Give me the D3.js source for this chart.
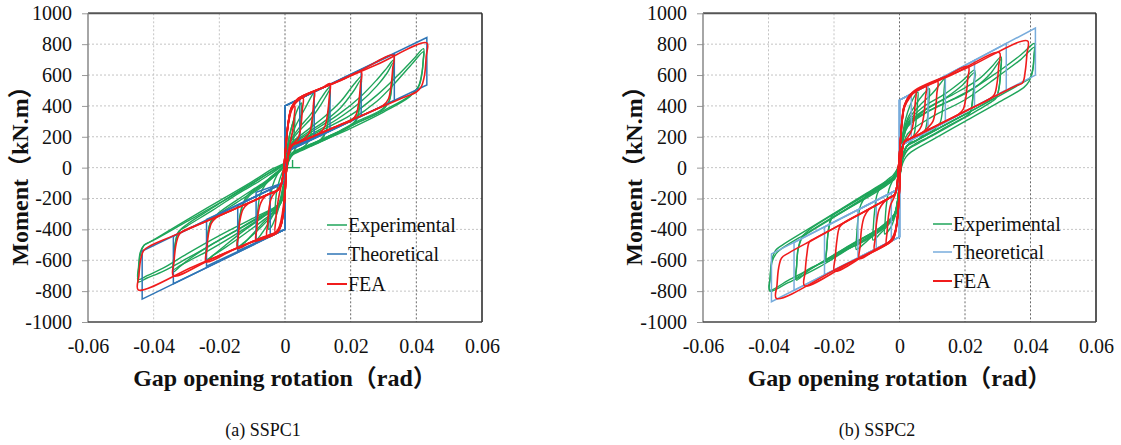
<!DOCTYPE html>
<html><head><meta charset="utf-8">
<script src="https://cdn.jsdelivr.net/npm/d3@7"></script>
<style>body{margin:0;background:#fff}</style>
</head><body>
<svg id="c" width="1121" height="445"></svg>
<script>
// ---------- tick / label data ----------
const xTicks = [-0.06,-0.04,-0.02,0,0.02,0.04,0.06];
const xTickLabels = ["-0.06","-0.04","-0.02","0","0.02","0.04","0.06"];
const yTicks = [-1000,-800,-600,-400,-200,0,200,400,600,800,1000];
const yTickLabels = ["-1000","-800","-600","-400","-200","0","200","400","600","800","1000"];
const legendLabels = ["Experimental","Theoretical","FEA"];
const xTitle = "Gap opening rotation（rad）";
const yTitle = "Moment（kN.m）";
const captions = ["(a) SSPC1","(b) SSPC2"];

// ---------- SSPC1 ----------
const expA = [
 [[0.0005,0],[0.0046,0]],
 [[0.0023,0],[0.0023,50]],
 [[0,20],[0.0006,120],[0.0015,220],[0.0025,300],[0.003,330],[0.0029,260],[0.0025,170],[0.0018,110],[0.001,60],[0.0003,0],[0,-40],[-0.0006,-120],[-0.0015,-210],[-0.0025,-280],[-0.003,-300],[-0.0029,-230],[-0.0025,-150],[-0.0018,-90],[-0.001,-40],[-0.0003,0],[0,20]],
 [[0,20],[0.0006,120],[0.0015,220],[0.003,330],[0.0042,395],[0.005,420],[0.0049,340],[0.0045,230],[0.0038,150],[0.0025,100],[0.0012,60],[0.0004,0],[0,-50],[-0.0006,-130],[-0.0015,-230],[-0.003,-330],[-0.0042,-385],[-0.005,-400],[-0.0049,-320],[-0.0045,-210],[-0.0038,-120],[-0.0025,-50],[-0.0012,-10],[-0.0004,10],[0,20]],
 [[0,20],[0.0006,110],[0.0015,180],[0.003,260],[0.006,380],[0.008,460],[0.0089,491],[0.0088,420],[0.0085,320],[0.0078,210],[0.0065,150],[0.004,115],[0.0022,95],[0.001,60],[0.0003,-20],[0,-80],[-0.0007,-170],[-0.002,-240],[-0.0045,-340],[-0.0072,-430],[-0.0088,-468],[-0.0087,-390],[-0.0083,-280],[-0.0075,-170],[-0.006,-110],[-0.004,-60],[-0.002,-25],[-0.0005,5],[0,20]],
 [[0,20],[0.0006,110],[0.0015,170],[0.004,250],[0.008,350],[0.011,450],[0.0128,505],[0.0137,523],[0.0136,450],[0.0133,350],[0.0126,240],[0.011,185],[0.007,145],[0.004,115],[0.0022,95],[0.001,55],[0.0003,-30],[0,-90],[-0.0007,-180],[-0.002,-250],[-0.005,-320],[-0.009,-410],[-0.0125,-490],[-0.0144,-524],[-0.0143,-440],[-0.0138,-330],[-0.0128,-230],[-0.011,-170],[-0.007,-110],[-0.004,-55],[-0.002,-20],[-0.0005,5],[0,20]],
 [[0,20],[0.0006,100],[0.0015,160],[0.004,230],[0.008,320],[0.011,410],[0.0128,475],[0.0137,505],[0.0136,440],[0.0133,345],[0.0125,235],[0.011,180],[0.007,140],[0.004,110],[0.0022,90],[0.001,50],[0.0003,-30],[0,-90],[-0.0007,-190],[-0.002,-260],[-0.005,-335],[-0.009,-420],[-0.0125,-485],[-0.0144,-510],[-0.0143,-430],[-0.0138,-320],[-0.0128,-240],[-0.011,-185],[-0.007,-125],[-0.004,-70],[-0.002,-30],[-0.0005,0],[0,20]],
 [[0,20],[0.0007,110],[0.002,160],[0.006,230],[0.012,330],[0.017,430],[0.021,540],[0.0232,590],[0.0231,520],[0.0227,410],[0.022,320],[0.019,260],[0.014,210],[0.009,160],[0.005,125],[0.0025,100],[0.0012,60],[0.0004,-20],[0,-90],[-0.0007,-180],[-0.002,-240],[-0.006,-310],[-0.012,-400],[-0.018,-500],[-0.022,-570],[-0.024,-610],[-0.0239,-520],[-0.0234,-420],[-0.0225,-350],[-0.02,-300],[-0.015,-230],[-0.01,-160],[-0.006,-100],[-0.003,-50],[-0.001,-10],[0,20]],
 [[0,20],[0.0007,100],[0.002,150],[0.006,215],[0.012,300],[0.017,390],[0.021,500],[0.0232,572],[0.0231,510],[0.0226,400],[0.0218,310],[0.019,255],[0.014,200],[0.009,150],[0.005,118],[0.0025,92],[0.0012,55],[0.0004,-20],[0,-90],[-0.0007,-190],[-0.002,-255],[-0.006,-330],[-0.012,-425],[-0.018,-515],[-0.022,-570],[-0.024,-596],[-0.0239,-510],[-0.0234,-410],[-0.0224,-340],[-0.02,-290],[-0.015,-215],[-0.01,-145],[-0.006,-90],[-0.003,-40],[-0.001,-5],[0,20]],
 [[0,20],[0.0007,110],[0.002,150],[0.008,230],[0.016,340],[0.023,460],[0.028,570],[0.031,645],[0.033,696],[0.0329,620],[0.0325,520],[0.0317,430],[0.029,370],[0.022,300],[0.015,220],[0.008,150],[0.004,115],[0.002,90],[0.001,50],[0.0003,-30],[0,-100],[-0.0008,-190],[-0.002,-240],[-0.008,-320],[-0.016,-420],[-0.024,-520],[-0.029,-590],[-0.032,-640],[-0.034,-674],[-0.0339,-600],[-0.0335,-500],[-0.0325,-420],[-0.03,-370],[-0.022,-260],[-0.014,-150],[-0.008,-75],[-0.004,-25],[-0.0015,5],[0,25]],
 [[0,25],[0.0007,100],[0.002,140],[0.008,215],[0.016,315],[0.023,425],[0.028,530],[0.031,610],[0.033,680],[0.0329,610],[0.0324,510],[0.0315,420],[0.029,362],[0.022,292],[0.015,212],[0.008,145],[0.004,110],[0.002,85],[0.001,45],[0.0003,-30],[0,-100],[-0.0008,-200],[-0.002,-250],[-0.008,-335],[-0.016,-445],[-0.024,-545],[-0.029,-600],[-0.032,-635],[-0.034,-660],[-0.0339,-590],[-0.0334,-490],[-0.0324,-415],[-0.03,-380],[-0.022,-275],[-0.014,-165],[-0.008,-90],[-0.004,-35],[-0.0015,0],[0,25]],
 [[0,25],[0.0007,110],[0.002,140],[0.01,230],[0.02,340],[0.028,470],[0.034,590],[0.039,700],[0.0422,771],[0.0421,700],[0.0417,610],[0.0408,530],[0.038,465],[0.03,370],[0.02,270],[0.01,170],[0.005,115],[0.0025,92],[0.0012,50],[0.0004,-30],[0,-110],[-0.0008,-200],[-0.002,-240],[-0.01,-330],[-0.02,-440],[-0.03,-560],[-0.037,-650],[-0.042,-700],[-0.0447,-725],[-0.0446,-640],[-0.0441,-550],[-0.043,-505],[-0.041,-480],[-0.03,-340],[-0.02,-215],[-0.01,-90],[-0.0036,-5],[-0.0015,15],[0,30]],
 [[0,25],[0.0007,100],[0.002,130],[0.01,210],[0.02,310],[0.028,430],[0.034,560],[0.039,680],[0.0422,752],[0.0421,690],[0.0416,600],[0.0405,520],[0.038,460],[0.03,360],[0.02,255],[0.01,160],[0.005,110],[0.0025,85],[0.0012,45],[0.0004,-30],[0,-110],[-0.0008,-210],[-0.002,-250],[-0.01,-350],[-0.02,-470],[-0.03,-590],[-0.037,-670],[-0.042,-715],[-0.0447,-740],[-0.0446,-660],[-0.044,-560],[-0.0428,-500],[-0.04,-470],[-0.03,-350],[-0.02,-230],[-0.01,-105],[-0.004,-20],[-0.0015,10],[0,25]]
];
const theoA = [
 [[0,0],[0,400],[0.0045,446],[0.0045,146],[0,100],[0,-400],[-0.0045,-447],[-0.0045,-140],[0,-95],[0,0]],
 [[0,0],[0,400],[0.0089,492],[0.0089,205],[0,100],[0,-400],[-0.0088,-480],[-0.0088,-160],[0,-95],[0,0]],
 [[0,0],[0,400],[0.0137,540],[0.0137,250],[0,100],[0,-400],[-0.0144,-540],[-0.0144,-245],[0,-95],[0,0]],
 [[0,0],[0,400],[0.0232,635],[0.0232,335],[0,100],[0,-400],[-0.0239,-638],[-0.0239,-335],[0,-95],[0,0]],
 [[0,0],[0,400],[0.0333,738],[0.0333,435],[0,100],[0,-400],[-0.034,-752],[-0.034,-445],[0,-95],[0,0]],
 [[0,0],[0,400],[0.0432,843],[0.0432,536],[0,100],[0,-400],[-0.0435,-852],[-0.0435,-540],[0,-95],[0,0]]
];
const feaA = [
 [[-0.0004,-20],[0.0002,120],[0.001,280],[0.002,370],[0.003,400],[0.0028,330],[0.0024,250],[0.0018,180],[0.001,100],[0.0004,0],[0,-120],[-0.0005,-250],[-0.0012,-340],[-0.002,-395],[-0.003,-417],[-0.0028,-340],[-0.0024,-260],[-0.0018,-180],[-0.001,-100],[-0.0004,-20]],
 [[-0.0004,-20],[0.0002,120],[0.001,285],[0.002,380],[0.0035,425],[0.0055,450],[0.0053,380],[0.0049,280],[0.0042,200],[0.003,165],[0.0022,148],[0.0012,100],[0.0005,0],[0.0001,-130],[-0.0004,-260],[-0.0012,-360],[-0.0025,-415],[-0.004,-430],[-0.0055,-440],[-0.0053,-370],[-0.0049,-270],[-0.0042,-200],[-0.003,-160],[-0.0022,-145],[-0.0012,-110],[-0.0004,-20]],
 [[-0.0004,-20],[0.0002,120],[0.001,290],[0.002,385],[0.0035,428],[0.006,462],[0.0089,492],[0.0087,420],[0.0083,320],[0.0075,230],[0.0062,195],[0.004,165],[0.0022,148],[0.0012,100],[0.0005,0],[0.0001,-130],[-0.0004,-265],[-0.0012,-365],[-0.0025,-418],[-0.005,-438],[-0.0088,-470],[-0.0086,-400],[-0.0082,-300],[-0.0074,-230],[-0.006,-185],[-0.004,-162],[-0.0022,-145],[-0.0012,-110],[-0.0004,-20]],
 [[-0.0004,-20],[0.0002,125],[0.001,292],[0.002,388],[0.004,445],[0.008,487],[0.0115,520],[0.0137,545],[0.0135,460],[0.013,355],[0.0122,270],[0.0108,228],[0.008,197],[0.004,162],[0.0022,146],[0.0012,98],[0.0005,0],[0.0001,-135],[-0.0004,-270],[-0.0012,-370],[-0.0025,-420],[-0.006,-445],[-0.011,-490],[-0.0144,-522],[-0.0142,-440],[-0.0137,-340],[-0.0128,-270],[-0.0113,-235],[-0.008,-200],[-0.004,-162],[-0.0022,-145],[-0.0012,-110],[-0.0004,-20]],
 [[-0.0004,-20],[0.0002,125],[0.001,292],[0.002,388],[0.004,447],[0.01,505],[0.017,565],[0.0232,622],[0.023,540],[0.0225,430],[0.0217,345],[0.0203,305],[0.017,278],[0.01,215],[0.004,162],[0.0022,146],[0.0012,98],[0.0005,0],[0.0001,-135],[-0.0004,-270],[-0.0012,-370],[-0.0025,-420],[-0.008,-462],[-0.016,-535],[-0.024,-610],[-0.0238,-530],[-0.0233,-430],[-0.0224,-360],[-0.021,-325],[-0.016,-274],[-0.009,-209],[-0.004,-162],[-0.0022,-145],[-0.0012,-110],[-0.0004,-20]],
 [[-0.0004,-20],[0.0002,125],[0.001,295],[0.002,390],[0.004,447],[0.012,522],[0.022,617],[0.033,728],[0.0328,640],[0.0323,530],[0.0315,445],[0.03,405],[0.025,352],[0.015,262],[0.006,180],[0.0022,146],[0.0012,98],[0.0005,0],[0.0001,-135],[-0.0004,-270],[-0.0012,-372],[-0.0025,-422],[-0.01,-480],[-0.022,-588],[-0.034,-700],[-0.0338,-610],[-0.0333,-510],[-0.0324,-440],[-0.031,-410],[-0.025,-357],[-0.015,-265],[-0.006,-181],[-0.0022,-145],[-0.0012,-110],[-0.0004,-20]],
 [[-0.0004,-20],[0.0002,125],[0.001,295],[0.002,392],[0.004,448],[0.015,548],[0.028,668],[0.0432,808],[0.043,720],[0.0425,600],[0.0415,525],[0.04,490],[0.035,445],[0.025,352],[0.015,262],[0.006,180],[0.0022,146],[0.0012,98],[0.0005,0],[0.0001,-135],[-0.0004,-272],[-0.0012,-374],[-0.0025,-424],[-0.012,-498],[-0.028,-642],[-0.0447,-792],[-0.0445,-700],[-0.044,-600],[-0.043,-535],[-0.041,-506],[-0.035,-450],[-0.025,-357],[-0.015,-265],[-0.006,-181],[-0.0022,-145],[-0.0012,-110],[-0.0004,-20]]
];

// ---------- SSPC2 ----------
const expB = [
 [[0,30],[0.0005,130],[0.0012,250],[0.0025,360],[0.004,440],[0.0056,490],[0.0055,420],[0.0051,310],[0.0044,210],[0.0032,160],[0.002,130],[0.001,80],[0.0003,0],[0,-80],[-0.0005,-200],[-0.0012,-300],[-0.0025,-380],[-0.0045,-430],[-0.0044,-350],[-0.004,-240],[-0.0032,-140],[-0.002,-80],[-0.001,-40],[-0.0003,0],[0,30]],
 [[0,30],[0.0005,120],[0.0012,230],[0.0025,320],[0.005,410],[0.0075,480],[0.0091,512],[0.009,440],[0.0086,330],[0.0078,240],[0.0062,190],[0.004,160],[0.0022,140],[0.001,80],[0.0003,0],[0,-90],[-0.0006,-210],[-0.0015,-300],[-0.003,-360],[-0.006,-430],[-0.0081,-469],[-0.008,-390],[-0.0076,-280],[-0.0068,-170],[-0.0052,-110],[-0.0035,-75],[-0.002,-50],[-0.0007,-10],[0,30]],
 [[0,30],[0.0005,115],[0.0012,220],[0.0025,305],[0.006,400],[0.01,480],[0.0125,545],[0.0137,575],[0.0136,500],[0.0132,390],[0.0124,290],[0.0108,250],[0.008,215],[0.005,175],[0.0025,146],[0.0012,90],[0.0004,0],[0,-100],[-0.0006,-220],[-0.0015,-300],[-0.004,-370],[-0.008,-440],[-0.0115,-505],[-0.0132,-530],[-0.0131,-450],[-0.0127,-340],[-0.0118,-240],[-0.0102,-185],[-0.007,-140],[-0.004,-100],[-0.002,-65],[-0.0007,-15],[0,30]],
 [[0,30],[0.0005,110],[0.0012,210],[0.0025,290],[0.007,390],[0.014,480],[0.019,560],[0.0229,631],[0.0228,560],[0.0224,450],[0.0216,360],[0.02,345],[0.015,290],[0.009,220],[0.0045,170],[0.0025,146],[0.0012,90],[0.0004,0],[0,-100],[-0.0006,-220],[-0.0015,-300],[-0.005,-380],[-0.012,-470],[-0.018,-550],[-0.0223,-610],[-0.0222,-530],[-0.0218,-420],[-0.0208,-320],[-0.019,-290],[-0.014,-225],[-0.008,-150],[-0.004,-100],[-0.002,-70],[-0.0007,-15],[0,30]],
 [[0,30],[0.0005,100],[0.0012,195],[0.0025,270],[0.007,360],[0.014,450],[0.019,530],[0.0229,615],[0.0228,550],[0.0223,440],[0.0215,355],[0.02,330],[0.015,272],[0.009,200],[0.0045,150],[0.0025,120],[0.0012,70],[0.0004,-10],[0,-110],[-0.0006,-235],[-0.0015,-315],[-0.005,-395],[-0.012,-490],[-0.018,-545],[-0.0223,-595],[-0.0222,-520],[-0.0217,-410],[-0.0207,-330],[-0.019,-305],[-0.014,-245],[-0.008,-170],[-0.004,-115],[-0.002,-80],[-0.0007,-25],[0,30]],
 [[0,30],[0.0005,110],[0.0012,205],[0.0025,285],[0.008,380],[0.016,470],[0.024,570],[0.028,650],[0.031,717],[0.0309,640],[0.0305,530],[0.0296,460],[0.028,440],[0.02,345],[0.012,255],[0.006,185],[0.0025,146],[0.0012,90],[0.0004,0],[0,-100],[-0.0006,-220],[-0.0015,-300],[-0.006,-390],[-0.014,-490],[-0.022,-590],[-0.028,-670],[-0.0315,-728],[-0.0314,-640],[-0.031,-530],[-0.0298,-450],[-0.028,-410],[-0.02,-300],[-0.012,-195],[-0.006,-118],[-0.003,-80],[-0.0012,-40],[0,30]],
 [[0,30],[0.0005,100],[0.0012,190],[0.0025,265],[0.008,355],[0.016,440],[0.024,535],[0.028,615],[0.031,700],[0.0309,630],[0.0304,520],[0.0295,450],[0.028,425],[0.02,325],[0.012,230],[0.006,160],[0.0025,115],[0.0012,65],[0.0004,-10],[0,-110],[-0.0006,-235],[-0.0015,-315],[-0.006,-400],[-0.014,-505],[-0.022,-600],[-0.028,-660],[-0.0315,-710],[-0.0314,-630],[-0.0309,-525],[-0.0297,-455],[-0.028,-425],[-0.02,-320],[-0.012,-215],[-0.006,-135],[-0.003,-95],[-0.0012,-50],[0,30]],
 [[0,30],[0.0005,105],[0.0012,200],[0.0025,280],[0.01,380],[0.02,480],[0.03,620],[0.037,730],[0.0412,804],[0.0411,740],[0.0407,640],[0.0398,580],[0.038,555],[0.03,460],[0.02,345],[0.01,232],[0.005,175],[0.0025,146],[0.0012,90],[0.0004,0],[0,-100],[-0.0006,-220],[-0.0015,-300],[-0.006,-390],[-0.015,-500],[-0.025,-630],[-0.034,-730],[-0.0396,-793],[-0.0395,-710],[-0.039,-600],[-0.0378,-535],[-0.036,-505],[-0.028,-400],[-0.018,-270],[-0.01,-165],[-0.005,-100],[-0.0015,-60],[-0.0005,-20],[0,30]],
 [[0,20],[0.0005,80],[0.0012,150],[0.0025,220],[0.01,330],[0.02,440],[0.03,590],[0.037,700],[0.0412,780],[0.0411,720],[0.0406,620],[0.0396,560],[0.038,520],[0.03,420],[0.02,300],[0.01,180],[0.0036,102],[0.002,70],[0.001,30],[0.0003,-30],[0,-130],[-0.0006,-250],[-0.0015,-320],[-0.006,-410],[-0.015,-520],[-0.025,-650],[-0.034,-745],[-0.0396,-800],[-0.0395,-720],[-0.0389,-610],[-0.0376,-555],[-0.036,-525],[-0.028,-420],[-0.018,-290],[-0.01,-185],[-0.005,-120],[-0.0015,-75],[-0.0005,-30],[0,20]]
];
const theoB = [
 [[0,0],[0,437],[0.0036,478],[0.0036,178],[0,140],[0,-448],[-0.0025,-475],[-0.0025,-165],[0,-135],[0,0]],
 [[0,0],[0,437],[0.0087,535],[0.0087,235],[0,140],[0,-448],[-0.0071,-524],[-0.0071,-214],[0,-135],[0,0]],
 [[0,0],[0,437],[0.014,595],[0.014,295],[0,140],[0,-448],[-0.0127,-585],[-0.0127,-275],[0,-135],[0,0]],
 [[0,0],[0,437],[0.0229,695],[0.0229,395],[0,140],[0,-448],[-0.0229,-695],[-0.0229,-385],[0,-135],[0,0]],
 [[0,0],[0,437],[0.0326,804],[0.0326,504],[0,140],[0,-448],[-0.0322,-795],[-0.0322,-485],[0,-135],[0,0]],
 [[0,0],[0,437],[0.0415,905],[0.0415,600],[0,140],[0,-448],[-0.0391,-869],[-0.0391,-559],[0,-135],[0,0]]
];
const feaB = [
 [[-0.0003,0],[0.0002,140],[0.0008,300],[0.0015,390],[0.003,450],[0.005,495],[0.0048,420],[0.0044,320],[0.0037,240],[0.0025,195],[0.0015,168],[0.0008,110],[0.0003,0],[0,-130],[-0.0005,-290],[-0.0012,-400],[-0.0022,-455],[-0.004,-497],[-0.0038,-420],[-0.0034,-320],[-0.0027,-240],[-0.0018,-200],[-0.001,-150],[-0.0003,0]],
 [[-0.0003,0],[0.0002,145],[0.0008,305],[0.0015,395],[0.003,460],[0.0055,502],[0.0081,527],[0.0079,450],[0.0075,350],[0.0067,270],[0.0053,225],[0.003,185],[0.0015,166],[0.0008,110],[0.0003,0],[0,-135],[-0.0005,-295],[-0.0012,-405],[-0.0022,-462],[-0.005,-505],[-0.0076,-534],[-0.0074,-455],[-0.007,-355],[-0.0062,-270],[-0.0048,-225],[-0.003,-195],[-0.0015,-175],[-0.0008,-120],[-0.0003,0]],
 [[-0.0003,0],[0.0002,145],[0.0008,305],[0.0015,398],[0.003,465],[0.007,517],[0.0116,560],[0.0114,480],[0.011,380],[0.0102,300],[0.0088,262],[0.006,215],[0.003,185],[0.0015,166],[0.0008,110],[0.0003,0],[0,-135],[-0.0005,-298],[-0.0012,-408],[-0.0022,-465],[-0.007,-527],[-0.0122,-590],[-0.012,-505],[-0.0116,-400],[-0.0108,-320],[-0.0094,-272],[-0.006,-230],[-0.003,-195],[-0.0015,-175],[-0.0008,-120],[-0.0003,0]],
 [[-0.0003,0],[0.0002,145],[0.0008,308],[0.0015,400],[0.004,480],[0.012,565],[0.021,655],[0.0208,570],[0.0203,460],[0.0195,380],[0.018,345],[0.012,280],[0.006,215],[0.003,185],[0.0015,166],[0.0008,110],[0.0003,0],[0,-138],[-0.0005,-300],[-0.0012,-410],[-0.0022,-468],[-0.01,-560],[-0.0198,-670],[-0.0196,-580],[-0.0191,-470],[-0.0183,-385],[-0.0168,-355],[-0.011,-288],[-0.006,-230],[-0.003,-195],[-0.0015,-175],[-0.0008,-120],[-0.0003,0]],
 [[-0.0003,0],[0.0002,148],[0.0008,310],[0.0015,402],[0.004,485],[0.016,602],[0.0305,745],[0.0303,660],[0.0298,550],[0.029,475],[0.0275,445],[0.02,365],[0.012,280],[0.006,215],[0.003,185],[0.0015,166],[0.0008,110],[0.0003,0],[0,-140],[-0.0005,-302],[-0.0012,-412],[-0.0022,-470],[-0.014,-603],[-0.029,-765],[-0.0288,-675],[-0.0283,-565],[-0.0275,-480],[-0.026,-460],[-0.018,-369],[-0.011,-288],[-0.006,-230],[-0.003,-195],[-0.0015,-175],[-0.0008,-120],[-0.0003,0]],
 [[-0.0003,0],[0.0002,148],[0.0008,312],[0.0015,405],[0.004,490],[0.02,640],[0.0391,821],[0.0389,735],[0.0384,625],[0.0376,550],[0.036,535],[0.028,450],[0.018,343],[0.008,237],[0.003,185],[0.0015,166],[0.0008,110],[0.0003,0],[0,-142],[-0.0005,-305],[-0.0012,-415],[-0.0022,-472],[-0.018,-643],[-0.0376,-847],[-0.0374,-760],[-0.0369,-650],[-0.036,-585],[-0.034,-555],[-0.026,-462],[-0.016,-346],[-0.008,-253],[-0.003,-195],[-0.0015,-175],[-0.0008,-120],[-0.0003,0]]
];

// ---------- drawing ----------
const svg = d3.select("#c");
const SERIF = "'Liberation Serif','Times New Roman','Noto Sans CJK SC',serif";
const GREEN = "#1fa55a", RED = "#f01c1c";

function panel(cfg){
  const x = d3.scaleLinear().domain([-0.06,0.06]).range([cfg.left,cfg.right]);
  const y = d3.scaleLinear().domain([-1000,1000]).range([cfg.bottom,cfg.top]);
  const g = svg.append("g");

  // grid
  g.selectAll(".hg").data(yTicks.filter(d=>Math.abs(d)<1000)).enter().append("line")
    .attr("x1",cfg.left).attr("x2",cfg.right).attr("y1",d=>y(d)).attr("y2",d=>y(d))
    .attr("stroke","#c4c4c4").attr("stroke-width",1).attr("stroke-dasharray","2,2");
  g.selectAll(".vg").data(xTicks.filter(d=>Math.abs(d)<0.06)).enter().append("line")
    .attr("y1",cfg.top).attr("y2",cfg.bottom).attr("x1",d=>x(d)).attr("x2",d=>x(d))
    .attr("stroke",d=>d>=0?"#6a6a6a":"#c4c4c4").attr("stroke-width",1).attr("stroke-dasharray","2,2");

  // axes (labels)
  const ya = g.append("g").attr("transform",`translate(${cfg.left},0)`)
    .call(d3.axisLeft(y).tickValues(yTicks).tickFormat((d,i)=>yTickLabels[i]).tickSize(6).tickPadding(10));
  ya.select(".domain").remove();
  ya.selectAll("line").attr("stroke","#999");
  ya.selectAll("text").attr("font-family",SERIF).attr("font-size",20).attr("fill","#111");
  const xa = g.append("g").attr("transform",`translate(0,${cfg.bottom})`)
    .call(d3.axisBottom(x).tickValues(xTicks).tickFormat((d,i)=>xTickLabels[i]).tickSize(0).tickPadding(17));
  xa.select(".domain").remove();
  xa.selectAll("text").attr("font-family",SERIF).attr("font-size",20).attr("fill","#111");

  // curves
  const smooth = d3.line().x(d=>x(d[0])).y(d=>y(d[1])).curve(d3.curveCatmullRom.alpha(0.5));
  const straight = d3.line().x(d=>x(d[0])).y(d=>y(d[1]));
  g.selectAll(".exp").data(cfg.exp).enter().append("path").attr("d",smooth)
    .attr("fill","none").attr("stroke",GREEN).attr("stroke-width",1.4);
  g.selectAll(".theo").data(cfg.theo).enter().append("path").attr("d",straight)
    .attr("fill","none").attr("stroke",cfg.theoColor).attr("stroke-width",1.5);
  g.selectAll(".fea").data(cfg.fea).enter().append("path").attr("d",smooth)
    .attr("fill","none").attr("stroke",RED).attr("stroke-width",1.6);

  // frame
  g.append("line").attr("x1",cfg.left).attr("x2",cfg.right).attr("y1",cfg.top).attr("y2",cfg.top).attr("stroke","#555").attr("stroke-width",2);
  g.append("line").attr("x1",cfg.left).attr("x2",cfg.left).attr("y1",cfg.top).attr("y2",cfg.bottom).attr("stroke","#888").attr("stroke-width",1.5);
  g.append("line").attr("x1",cfg.right).attr("x2",cfg.right).attr("y1",cfg.top).attr("y2",cfg.bottom).attr("stroke","#222").attr("stroke-width",1.5);
  g.append("line").attr("x1",cfg.left).attr("x2",cfg.right).attr("y1",cfg.bottom).attr("y2",cfg.bottom).attr("stroke","#444").attr("stroke-width",1.5);

  // legend
  const colors = [GREEN, cfg.theoColor, RED];
  legendLabels.forEach((lab,i)=>{
    const ly = cfg.legendY[i];
    g.append("line").attr("x1",cfg.legX0).attr("x2",cfg.legX1).attr("y1",ly).attr("y2",ly)
      .attr("stroke",colors[i]).attr("stroke-width",i===2?2:1.5);
    g.append("text").attr("x",cfg.legX1+1).attr("y",ly+7).text(lab)
      .attr("font-family",SERIF).attr("font-size",20).attr("fill","#111");
  });

  // titles
  g.append("text").attr("x",(cfg.left+cfg.right)/2).attr("y",386).attr("text-anchor","middle")
    .attr("font-family",SERIF).attr("font-weight","bold").attr("font-size",24).attr("fill","#111").text(xTitle);
  g.append("text").attr("transform",`translate(${cfg.ytX},170) rotate(-90)`).attr("text-anchor","middle")
    .attr("font-family",SERIF).attr("font-weight","bold").attr("font-size",24).attr("fill","#111").text(yTitle);
  g.append("text").attr("x",cfg.capX).attr("y",436).attr("text-anchor","middle")
    .attr("font-family",SERIF).attr("font-size",18).attr("fill","#111").text(cfg.caption);
}

panel({left:88,right:482,top:13.3,bottom:322,exp:expA,theo:theoA,fea:feaA,theoColor:"#2e75b6",
  legX0:327,legX1:347,legendY:[225,254,284],ytX:28,capX:263,caption:captions[0]});
panel({left:703,right:1096,top:13.3,bottom:322,exp:expB,theo:theoB,fea:feaB,theoColor:"#78acdc",
  legX0:933,legX1:952,legendY:[224,252,281],ytX:642,capX:877,caption:captions[1]});
</script>
</body></html>
